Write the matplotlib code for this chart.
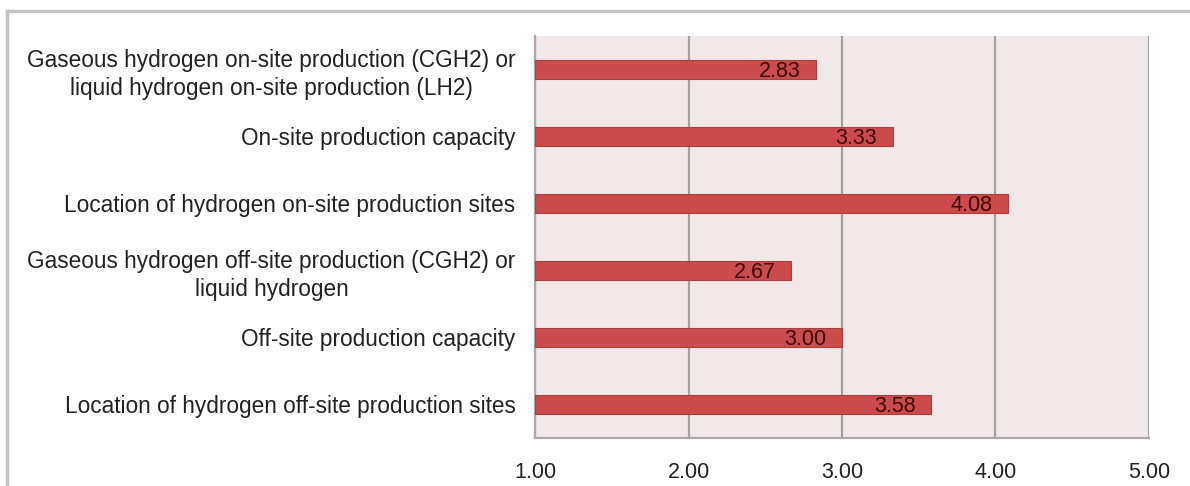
import matplotlib.pyplot as plt
from matplotlib.lines import Line2D

categories = [
    "Gaseous hydrogen on-site production (CGH2) or\nliquid hydrogen on-site production (LH2)",
    "On-site production capacity",
    "Location of hydrogen on-site production sites",
    "Gaseous hydrogen off-site production (CGH2) or\nliquid hydrogen",
    "Off-site production capacity",
    "Location of hydrogen off-site production sites",
]
scores = [2.83, 3.33, 4.08, 2.67, 3.00, 3.58]
x_ticks = [1.0, 2.0, 3.0, 4.0, 5.0]
x_min = 1.0

plt.rcParams["font.family"] = ["Liberation Sans", "DejaVu Sans"]

fig = plt.figure(figsize=(11.9, 4.86), dpi=100)
ax = fig.add_axes([0.4496, 0.0988, 0.5159, 0.8272])
ax.set_facecolor("#f2e8e9")

ypos = list(range(len(categories)))
ax.barh(ypos, [s - x_min for s in scores], left=x_min, height=0.28,
        color="#cb4b4c", edgecolor="#a84040", linewidth=0.8, zorder=3)

# valori all'interno della barra, vicino all'estremità
for y, s in zip(ypos, scores):
    ax.annotate(f"{s:.2f}", xy=(s, y), xytext=(-11, -1.5), textcoords="offset points",
                ha="right", va="center", fontsize=15.5, color="#3e0a0a", zorder=4)

ax.set_xlim(x_min, 5.0)
ax.set_ylim(len(categories) - 0.5, -0.5)
ax.set_xticks(x_ticks)
ax.set_xticklabels([f"{t:.2f}" for t in x_ticks])
ax.set_yticks(ypos)
ax.set_yticklabels(categories)
for t in ax.get_yticklabels():
    t.set_multialignment("center")
    t.set_linespacing(1.3)

ax.tick_params(axis="y", length=0, pad=14, labelsize=16.3, labelcolor="#222222")
ax.tick_params(axis="x", length=0, pad=17, labelsize=15.5, labelcolor="#222222")

ax.grid(axis="x", color="#a8a0a0", linewidth=1.6, zorder=1)
ax.set_axisbelow(True)
for side in ["top", "right"]:
    ax.spines[side].set_visible(False)
for side in ["left", "bottom"]:
    ax.spines[side].set_color("#b0a8a8")
    ax.spines[side].set_linewidth(1.6)

# cornice grigia della figura
fig.add_artist(Line2D([0.0059, 1.0], [0.977, 0.977], transform=fig.transFigure,
                      color="#c4c4c4", linewidth=2.5))
fig.add_artist(Line2D([0.0059, 0.0059], [0.0, 0.977], transform=fig.transFigure,
                      color="#c4c4c4", linewidth=2.5))

fig.savefig("out.png", dpi=100)
